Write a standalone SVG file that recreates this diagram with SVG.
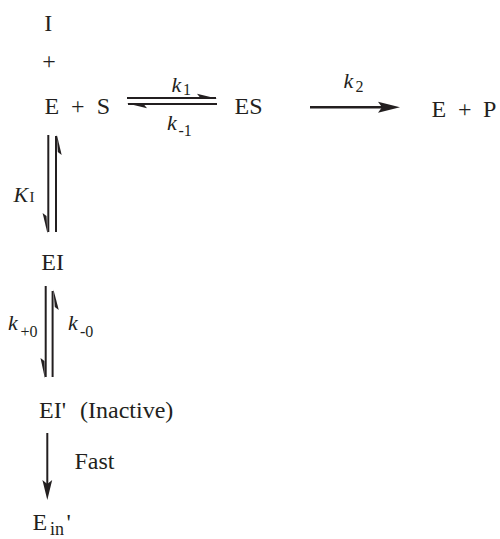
<svg xmlns="http://www.w3.org/2000/svg" width="500" height="539" viewBox="0 0 500 539">
<style>
  .t { font-size: 24px; }
  .k { font-size: 22px; font-style: italic; }
  .s { font-size: 16px; }
  .ln { stroke: #231f20; stroke-width: 2; fill: none; }
  .hd { fill: #231f20; stroke: none; }
</style>
<rect width="500" height="539" fill="#ffffff"/>

<g id="connectors">
  <line class="ln" x1="127" y1="98" x2="216" y2="98"/>
  <polygon class="hd" points="217.5,98.8 197,93.8 200,97.5"/>
  <line class="ln" x1="128" y1="104" x2="217" y2="104"/>
  <polygon class="hd" points="126.5,103.2 147,108.2 144,104.5"/>
  <line class="ln" x1="310" y1="107.3" x2="384" y2="107.3" style="stroke-width:2.4"/>
  <polygon class="hd" points="400,107.3 378,101.8 382,107.3 378,112.8"/>
  <line class="ln" x1="48.3" y1="135" x2="48.3" y2="232"/>
  <polygon class="hd" points="47.5,233.5 42.6,213 46.5,216"/>
  <line class="ln" x1="56" y1="136" x2="56" y2="232"/>
  <polygon class="hd" points="56.8,134.5 61.7,155 57.8,152"/>
  <line class="ln" x1="45.7" y1="286" x2="45.7" y2="377"/>
  <polygon class="hd" points="44.9,378.5 40.5,358 44.4,361"/>
  <line class="ln" x1="52.6" y1="291" x2="52.6" y2="377"/>
  <polygon class="hd" points="53.4,289.5 58.8,310 54.8,307"/>
  <line class="ln" x1="47.3" y1="433" x2="47.3" y2="486"/>
  <polygon class="hd" points="47.3,500 42.4,480 47.3,484 52.2,480"/>
</g>

<g font-family="Liberation Serif, Tinos, 'Noto Serif', 'DejaVu Serif', 'Times New Roman', serif" fill="#231f20">
<g id="node-I"><text class="t" x="44.3" y="30.5">I</text></g>
<g id="node-plus"><text class="t" x="42.3" y="68.5">+</text></g>
<g id="node-ES-reactants">
  <text class="t" y="113.5"><tspan x="44.5">E</tspan><tspan x="71">+</tspan><tspan x="96.8">S</tspan></text>
</g>
<g id="node-ES"><text class="t" x="234.5" y="114">ES</text></g>
<g id="node-EP">
  <text class="t" y="116.5"><tspan x="431.5">E</tspan><tspan x="458">+</tspan><tspan x="483">P</tspan></text>
</g>
<g id="label-k1"><text class="k" x="171.5" y="91.5">k</text><text class="s" x="183" y="95">1</text></g>
<g id="label-k-1"><text class="k" x="167" y="130">k</text><text class="s" x="178.5" y="136">-1</text></g>
<g id="label-k2"><text class="k" x="343.5" y="88">k</text><text class="s" x="355.5" y="92">2</text></g>
<g id="label-KI"><text class="k" x="13.5" y="202">K</text><text x="29.5" y="202" font-size="15">I</text></g>
<g id="node-EI"><text class="t" x="41.3" y="270">EI</text></g>
<g id="label-k+0"><text class="k" x="8" y="330">k</text><text class="s" x="20.5" y="337">+0</text></g>
<g id="label-k-0"><text class="k" x="68" y="330">k</text><text class="s" x="80" y="337">-0</text></g>
<g id="node-EI-inactive">
  <text class="t" y="418"><tspan x="39">EI'</tspan><tspan x="80">(Inactive)</tspan></text>
</g>
<g id="label-fast"><text class="t" x="74.5" y="468.5">Fast</text></g>
<g id="node-Ein">
  <text class="t" x="32.5" y="530">E</text><text x="50" y="535" font-size="18">in</text><text class="t" x="66.5" y="530">'</text>
</g>
</g>
</svg>
